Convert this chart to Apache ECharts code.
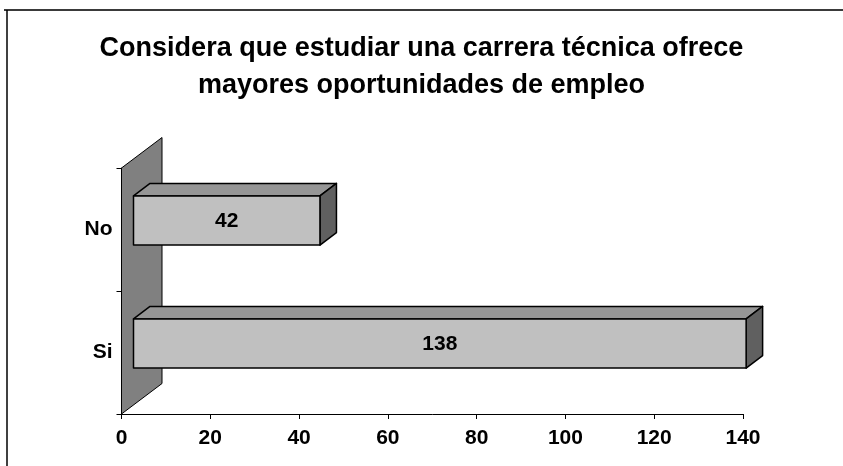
<!DOCTYPE html>
<html>
<head>
<meta charset="utf-8">
<script src="https://cdn.jsdelivr.net/npm/echarts@6/dist/echarts.min.js"></script>
<style>
  html, body { margin: 0; padding: 0; background: #fff; }
  #chart { width: 843px; height: 466px; }
</style>
</head>
<body>
<div id="chart"></div>
<script>
// data
const categories = ['Si', 'No'];
const values = [138, 42];
const titleText = 'Considera que estudiar una carrera técnica ofrece\nmayores oportunidades de empleo';

// oblique 3D offsets (px): wall depth, bar front / back planes
const WALL = [40.5, -30.5];
const FRONT = [12, -9];
const BACK = [28.5, -21.5];
const FONT = "'Liberation Sans', Arial, sans-serif";

const chart = echarts.init(document.getElementById('chart'));

function renderWall(params, api) {
  const band = api.size([0, 1])[1];
  const p0 = api.coord([0, 0]);
  const pN = api.coord([0, categories.length - 1]);
  const x = p0[0];
  const yb = p0[1] + band / 2;
  const yt = pN[1] - band / 2;
  return {
    type: 'polygon',
    shape: { points: [[x, yb], [x, yt], [x + WALL[0], yt + WALL[1]], [x + WALL[0], yb + WALL[1]]] },
    style: { fill: '#808080', stroke: '#000', lineWidth: 1 }
  };
}

function renderBar(params, api) {
  const v = api.value(0);
  const c = api.value(1);
  const start = api.coord([0, c]);
  const end = api.coord([v, c]);
  const h = api.size([0, 1])[1] * 0.4;
  const x0 = start[0] + FRONT[0];
  const x1 = end[0] + FRONT[0];
  const y0 = start[1] + FRONT[1] - h / 2;
  const y1 = y0 + h;
  const bx = BACK[0] - FRONT[0], by = BACK[1] - FRONT[1];
  const edge = { stroke: '#000', lineWidth: 1.5, lineJoin: 'round' };
  return {
    type: 'group',
    children: [
      { type: 'polygon', shape: { points: [[x0, y0], [x0 + bx, y0 + by], [x1 + bx, y0 + by], [x1, y0]] },
        style: Object.assign({ fill: '#969696' }, edge) },
      { type: 'polygon', shape: { points: [[x1, y0], [x1 + bx, y0 + by], [x1 + bx, y1 + by], [x1, y1]] },
        style: Object.assign({ fill: '#606060' }, edge) },
      { type: 'rect', shape: { x: x0, y: y0, width: x1 - x0, height: h },
        style: Object.assign({ fill: '#c0c0c0' }, edge) },
      { type: 'text', x: (x0 + x1) / 2, y: (y0 + y1) / 2 + 1,
        style: { text: String(v), fill: '#000', font: 'bold 21px ' + FONT, align: 'center', verticalAlign: 'middle' } }
    ]
  };
}

chart.setOption({
  backgroundColor: '#fff',
  animation: false,
  title: {
    text: titleText,
    left: 'center',
    top: 25,
    textStyle: { fontFamily: FONT, fontSize: 27, fontWeight: 'bold', color: '#000', lineHeight: 37 }
  },
  grid: { left: 121.5, right: 100, top: 168, bottom: 52 },
  xAxis: {
    type: 'value',
    min: 0,
    max: 140,
    interval: 20,
    axisLine: { show: true, lineStyle: { color: '#000', width: 1 } },
    axisTick: { show: true, length: 5, lineStyle: { color: '#000' } },
    splitLine: { show: false },
    axisLabel: { margin: 14, color: '#000', fontFamily: FONT, fontSize: 21, fontWeight: 'bold' }
  },
  yAxis: {
    type: 'category',
    data: categories,
    axisLine: { show: true, lineStyle: { color: '#000', width: 1 } },
    axisTick: { show: true, length: 5, lineStyle: { color: '#000' } },
    axisLabel: { margin: 9, color: '#000', fontFamily: FONT, fontSize: 21, fontWeight: 'bold' }
  },
  series: [
    { type: 'custom', renderItem: renderWall, data: [[0, 0]], encode: { x: 0, y: 1 }, z: 1, silent: true },
    { type: 'custom', renderItem: renderBar, data: values.map((v, i) => [v, i]), encode: { x: 0, y: 1 }, z: 2 }
  ],
  graphic: [
    { type: 'line', shape: { x1: 4, y1: 10, x2: 843, y2: 10 }, style: { stroke: '#3a3a3a', lineWidth: 2 } },
    { type: 'line', shape: { x1: 7, y1: 10, x2: 7, y2: 466 }, style: { stroke: '#000', lineWidth: 1.5 } }
  ]
});
</script>
</body>
</html>
